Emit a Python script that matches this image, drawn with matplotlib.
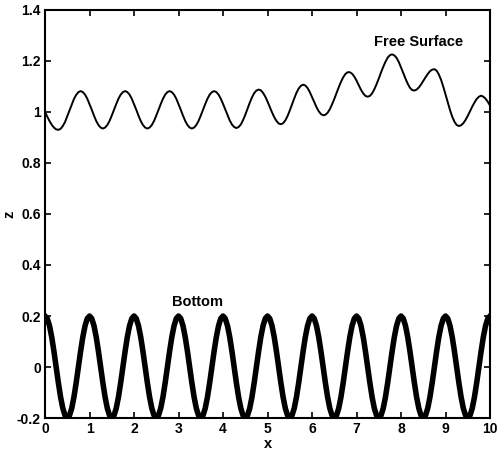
import numpy as np
import matplotlib
matplotlib.use("Agg")
import matplotlib.pyplot as plt

#=========================================================================================
# values, x step 0.05 from 0 to 10
x = np.round(np.arange(0, 201) * 0.05, 2)

free_surface = [
    1.000, 0.982, 0.965, 0.950, 0.939, 0.932, 0.930, 0.934, 0.945, 0.961,
    0.983, 1.006, 1.029, 1.051, 1.067, 1.078, 1.082, 1.078, 1.068, 1.052,
    1.031, 1.009, 0.986, 0.965, 0.949, 0.939, 0.935, 0.939, 0.949, 0.965,
    0.986, 1.009, 1.031, 1.052, 1.068, 1.078, 1.082, 1.078, 1.068, 1.052,
    1.031, 1.009, 0.986, 0.965, 0.949, 0.939, 0.935, 0.939, 0.949, 0.965,
    0.986, 1.009, 1.031, 1.052, 1.068, 1.078, 1.082, 1.078, 1.068, 1.052,
    1.031, 1.009, 0.986, 0.965, 0.949, 0.939, 0.935, 0.939, 0.949, 0.965,
    0.986, 1.009, 1.031, 1.052, 1.068, 1.078, 1.082, 1.078, 1.068, 1.052,
    1.032, 1.010, 0.987, 0.967, 0.951, 0.941, 0.937, 0.941, 0.951, 0.968,
    0.989, 1.013, 1.036, 1.057, 1.074, 1.084, 1.088, 1.085, 1.075, 1.060,
    1.041, 1.020, 0.999, 0.980, 0.965, 0.955, 0.952, 0.956, 0.967, 0.984,
    1.006, 1.030, 1.053, 1.075, 1.092, 1.103, 1.107, 1.104, 1.094, 1.078,
    1.059, 1.039, 1.019, 1.003, 0.992, 0.987, 0.989, 0.997, 1.011, 1.030,
    1.051, 1.074, 1.097, 1.118, 1.136, 1.149, 1.156, 1.156, 1.150, 1.139,
    1.123, 1.105, 1.087, 1.073, 1.063, 1.060, 1.063, 1.073, 1.089, 1.109,
    1.131, 1.155, 1.177, 1.197, 1.213, 1.223, 1.226, 1.222, 1.212, 1.196,
    1.175, 1.153, 1.131, 1.111, 1.095, 1.086, 1.084, 1.088, 1.096, 1.108,
    1.122, 1.136, 1.149, 1.160, 1.166, 1.168, 1.162, 1.147, 1.126, 1.099,
    1.069, 1.038, 1.008, 0.982, 0.962, 0.949, 0.945, 0.948, 0.956, 0.969,
    0.985, 1.003, 1.021, 1.037, 1.051, 1.060, 1.064, 1.060, 1.052, 1.040,
    1.025,
]

bottom = [
    0.200, 0.190, 0.162, 0.118, 0.062, 0.000, -0.062, -0.118, -0.162, -0.190,
    -0.200, -0.190, -0.162, -0.118, -0.062, 0.000, 0.062, 0.118, 0.162, 0.190,
    0.200, 0.190, 0.162, 0.118, 0.062, 0.000, -0.062, -0.118, -0.162, -0.190,
    -0.200, -0.190, -0.162, -0.118, -0.062, 0.000, 0.062, 0.118, 0.162, 0.190,
    0.200, 0.190, 0.162, 0.118, 0.062, 0.000, -0.062, -0.118, -0.162, -0.190,
    -0.200, -0.190, -0.162, -0.118, -0.062, 0.000, 0.062, 0.118, 0.162, 0.190,
    0.200, 0.190, 0.162, 0.118, 0.062, 0.000, -0.062, -0.118, -0.162, -0.190,
    -0.200, -0.190, -0.162, -0.118, -0.062, 0.000, 0.062, 0.118, 0.162, 0.190,
    0.200, 0.190, 0.162, 0.118, 0.062, 0.000, -0.062, -0.118, -0.162, -0.190,
    -0.200, -0.190, -0.162, -0.118, -0.062, 0.000, 0.062, 0.118, 0.162, 0.190,
    0.200, 0.190, 0.162, 0.118, 0.062, 0.000, -0.062, -0.118, -0.162, -0.190,
    -0.200, -0.190, -0.162, -0.118, -0.062, 0.000, 0.062, 0.118, 0.162, 0.190,
    0.200, 0.190, 0.162, 0.118, 0.062, 0.000, -0.062, -0.118, -0.162, -0.190,
    -0.200, -0.190, -0.162, -0.118, -0.062, 0.000, 0.062, 0.118, 0.162, 0.190,
    0.200, 0.190, 0.162, 0.118, 0.062, 0.000, -0.062, -0.118, -0.162, -0.190,
    -0.200, -0.190, -0.162, -0.118, -0.062, 0.000, 0.062, 0.118, 0.162, 0.190,
    0.200, 0.190, 0.162, 0.118, 0.062, 0.000, -0.062, -0.118, -0.162, -0.190,
    -0.200, -0.190, -0.162, -0.118, -0.062, 0.000, 0.062, 0.118, 0.162, 0.190,
    0.200, 0.190, 0.162, 0.118, 0.062, 0.000, -0.062, -0.118, -0.162, -0.190,
    -0.200, -0.190, -0.162, -0.118, -0.062, 0.000, 0.062, 0.118, 0.162, 0.190,
    0.200,
]

x_ticks = [0, 1, 2, 3, 4, 5, 6, 7, 8, 9, 10]
x_ticklabels = ['0', '1', '2', '3', '4', '5', '6', '7', '8', '9', '10']
z_ticks = [-0.2, 0, 0.2, 0.4, 0.6, 0.8, 1.0, 1.2, 1.4]
z_ticklabels = ['-0.2', '0', '0.2', '0.4', '0.6', '0.8', '1', '1.2', '1.4']

#=========================================================================================
plt.rcParams['font.family'] = ['Liberation Sans', 'DejaVu Sans']
plt.rcParams['font.weight'] = 'bold'

fig = plt.figure(figsize=(4.98, 4.5), dpi=100)
ax = fig.add_axes([0.0904, 0.0711, 0.8936, 0.9067])

ax.plot(x, free_surface, color='black', linewidth=1.4)
ax.plot(x, bottom, color='black', linewidth=4.0, solid_joinstyle='round')

ax.set_xlim(0, 10)
ax.set_ylim(-0.2, 1.4)
ax.set_xticks(x_ticks)
ax.set_xticklabels(x_ticklabels)
ax.set_yticks(z_ticks)
ax.set_yticklabels(z_ticklabels)

ax.tick_params(direction='in', top=True, right=True, length=4, width=1.2,
               labelsize=10, pad=3)
for sp in ax.spines.values():
    sp.set_linewidth(1.5)

ax.set_xlabel('x', fontsize=10.5, fontweight='bold')
ax.set_ylabel('z', fontsize=10.5, fontweight='bold')
ax.xaxis.set_label_coords(0.5, -0.046)
ax.yaxis.set_label_coords(-0.064, 0.5)

ax.text(7.39, 1.275, 'Free Surface', fontsize=10.5, fontweight='bold', va='center')
ax.text(2.85, 0.253, 'Bottom', fontsize=10.5, fontweight='bold', va='center')

fig.savefig('out.png', dpi=100)
